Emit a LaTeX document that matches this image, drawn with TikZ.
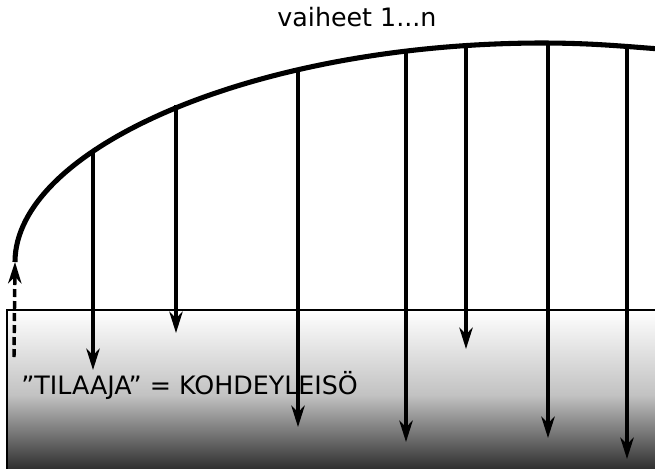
\documentclass[tikz,border=0pt]{standalone}
\usepackage{fontspec}
\setmainfont{DejaVu Sans}
\usetikzlibrary{arrows.meta}

\begin{document}
\begin{tikzpicture}[
  x=0.75pt, y=-0.75pt,
  arc/.style={line width=3.8pt},
  arr/.style={line width=2.6pt, -{Stealth[length=16pt, width=10pt, inset=5pt]}},
  lbl/.style={font=\fontsize{19}{23}\selectfont, inner sep=0pt},
  audience/.style={draw, line width=1.3pt, top color=white, bottom color=black!90, middle color=black!24}
]
\clip (0,0) rectangle (655,468);

% target group box
\path[audience] (7,310) rectangle (670,480);
\node[lbl, anchor=west] (client) at (21,385) {”TILAAJA” = KOHDEYLEISÖ};
\node[lbl] (phases) at (357,17) {vaiheet 1...n};

% curve of phases
\coordinate (start) at (15,262);
\draw[arc] (start) .. controls (15,150) and (250,44) .. (540,43)
  .. controls (590,43) and (620,46) .. (660,49);

\coordinate (s1) at (93,151);  \coordinate (e1) at (93,370);
\coordinate (s2) at (176,105); \coordinate (e2) at (176,333);
\coordinate (s3) at (298,68);  \coordinate (e3) at (298,427);
\coordinate (s4) at (406,51);  \coordinate (e4) at (406,442);
\coordinate (s5) at (466,47);  \coordinate (e5) at (466,349);
\coordinate (s6) at (548,44);  \coordinate (e6) at (548,438);
\coordinate (s7) at (627,47);  \coordinate (e7) at (627,459);

\foreach \i in {1,...,7}
  \draw[arr] (s\i) -- (e\i);

\coordinate (base) at (14,357);
\draw[arr, dash pattern=on 6pt off 3pt] (base) -- (start);
\end{tikzpicture}
\end{document}
